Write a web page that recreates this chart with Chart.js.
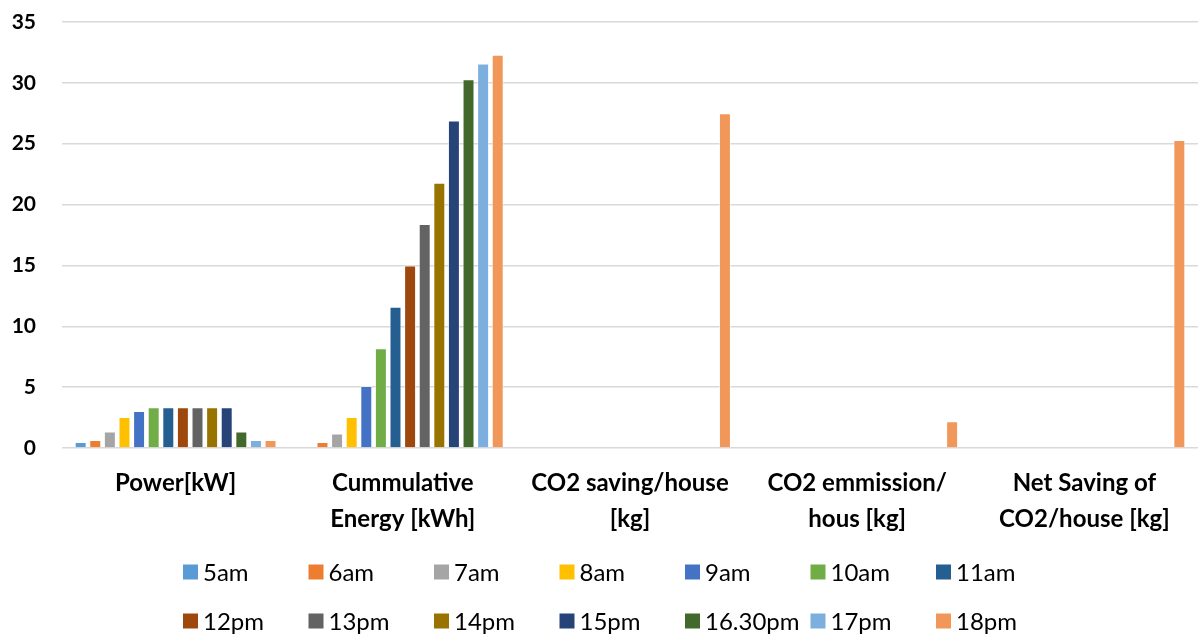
<!DOCTYPE html>
<html>
<head>
<meta charset="utf-8">
<title>Solar output and CO2 savings</title>
<script src="https://cdn.jsdelivr.net/npm/chart.js@4.4.1/dist/chart.umd.min.js"></script>
<style>
  html, body { margin: 0; padding: 0; background: #fff; }
  #wrap { width: 1198px; height: 634px; position: relative; }
</style>
</head>
<body>
<div id="wrap"><canvas id="chart"></canvas></div>
<script>
const categories = [
    'Power[kW]',
    ['Cummulative', 'Energy [kWh]'],
    ['CO2 saving/house', '[kg]'],
    ['CO2 emmission/', 'hous [kg]'],
    ['Net Saving of', 'CO2/house [kg]']
];

const hours = ['5am', '6am', '7am', '8am', '9am', '10am', '11am',
               '12pm', '13pm', '14pm', '15pm', '16.30pm', '17pm', '18pm'];

// one value per hour for each category
const powerKW    = [0.5, 0.65, 1.35, 2.55, 3.05, 3.35, 3.35, 3.35, 3.35, 3.35, 3.35, 1.35, 0.65, 0.65];
const cumEnergy  = [0, 0.5, 1.2, 2.55, 5.1, 8.2, 11.6, 15.0, 18.4, 21.8, 26.9, 30.3, 31.6, 32.3];
const co2Saving  = [0, 0, 0, 0, 0, 0, 0, 0, 0, 0, 0, 0, 0, 27.5];
const co2Emiss   = [0, 0, 0, 0, 0, 0, 0, 0, 0, 0, 0, 0, 0, 2.2];
const netSaving  = [0, 0, 0, 0, 0, 0, 0, 0, 0, 0, 0, 0, 0, 25.3];

const yTicks = [0, 5, 10, 15, 20, 25, 30, 35];

const colors = ['#5B9BD5', '#ED7D31', '#A5A5A5', '#FFC000', '#4472C4', '#70AD47', '#255E91',
                '#9E480E', '#636363', '#997300', '#264478', '#43682B', '#7CAFDD', '#F1975A'];

const FONT = 'Lato, "Open Sans", sans-serif';

const datasets = hours.map((h, i) => ({
    label: h,
    data: [powerKW[i], cumEnergy[i], co2Saving[i], co2Emiss[i], netSaving[i]],
    backgroundColor: colors[i],
    borderColor: 'rgba(255,255,255,0.55)',
    borderWidth: 1,
    categoryPercentage: 0.9,
    barPercentage: 0.82
}));

// legend laid out as a fixed 7-column grid under the axis
const gridLegend = {
    id: 'gridLegend',
    afterDraw(chart) {
        const ctx = chart.ctx;
        const colW = 125.5;
        const startX = chart.width / 2 - 416;
        const rows = [chart.height - 62, chart.height - 13];
        ctx.save();
        ctx.font = '24px ' + FONT;
        ctx.textBaseline = 'middle';
        ctx.textAlign = 'left';
        chart.data.datasets.forEach((ds, i) => {
            const x = startX + (i % 7) * colW;
            const y = rows[Math.floor(i / 7)];
            ctx.fillStyle = ds.backgroundColor;
            ctx.fillRect(x, y - 7.5, 15, 15);
            ctx.fillStyle = '#000';
            ctx.fillText(ds.label, x + 20, y + 1);
        });
        ctx.restore();
    }
};

new Chart(document.getElementById('chart'), {
    type: 'bar',
    data: { labels: categories, datasets: datasets },
    plugins: [gridLegend],
    options: {
        responsive: true,
        maintainAspectRatio: false,
        animation: false,
        layout: { padding: { left: 10, right: 0, top: 22, bottom: 90 } },
        plugins: {
            legend: { display: false },
            tooltip: { enabled: false }
        },
        scales: {
            x: {
                grid: { display: false },
                border: { display: false },
                afterFit: axis => { axis.height = 96; },
                ticks: {
                    color: '#000',
                    font: { family: FONT, size: 24, weight: 'bold', lineHeight: 1.47 },
                    padding: 10,
                    maxRotation: 0,
                    autoSkip: false
                }
            },
            y: {
                min: 0,
                max: 35,
                afterBuildTicks: axis => { axis.ticks = yTicks.map(v => ({ value: v })); },
                afterFit: axis => {
                    axis.width = 52;
                    axis.paddingTop = 0;
                    axis.paddingBottom = 0;
                },
                grid: { color: '#D9D9D9', lineWidth: 1.5, drawTicks: false },
                border: { display: false },
                ticks: {
                    color: '#000',
                    font: { family: FONT, size: 21, weight: 'bold' },
                    padding: 26
                }
            }
        }
    }
});
</script>
</body>
</html>
